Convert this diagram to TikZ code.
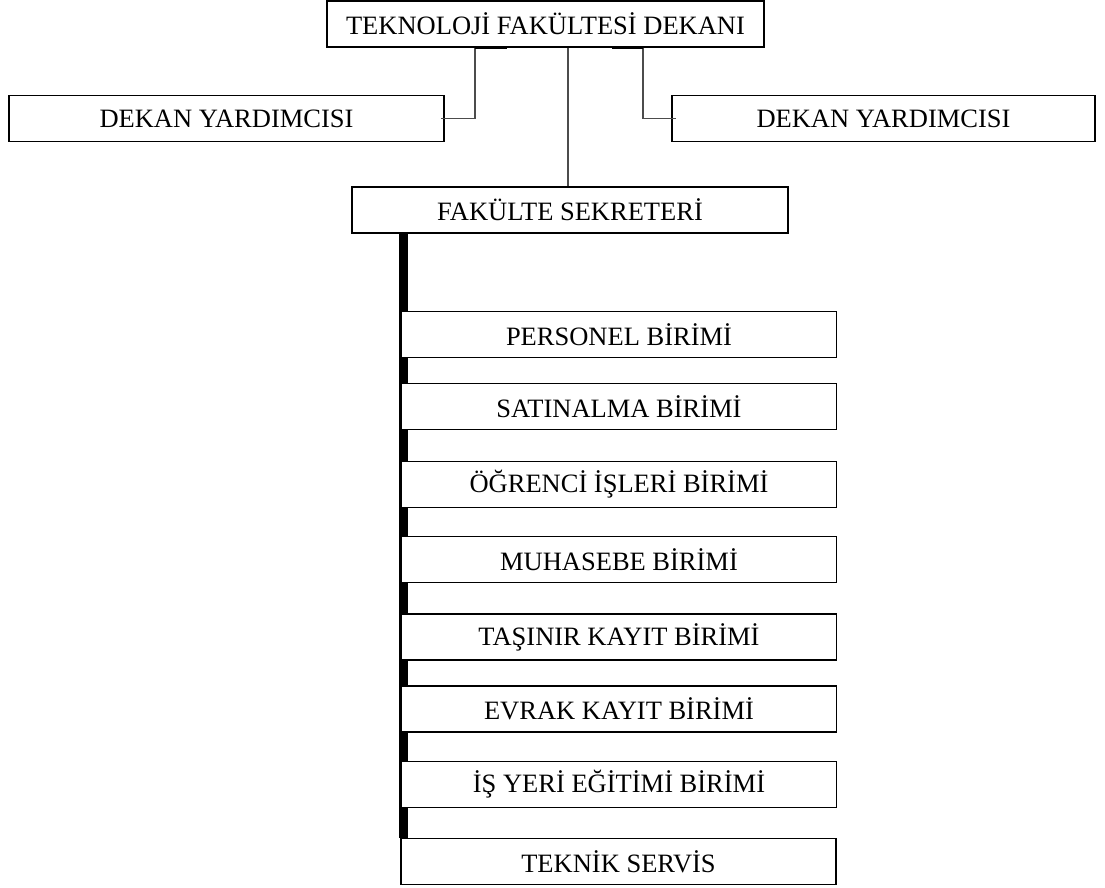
\documentclass[tikz,border=0pt]{standalone}
\usepackage{fontspec}
\setmainfont{Liberation Serif}
\usetikzlibrary{calc,backgrounds}
\tikzset{
  box/.style={draw=black, line width=1.2pt, fill=white, inner sep=0pt, minimum height=46pt,
    font=\fontsize{26.5}{30}\selectfont},
  link/.style={draw=black!70, line width=1.3pt},
  stub/.style={draw=black, line width=3pt},
  spine/.style={fill=black, draw=none}
}
\begin{document}
\begin{tikzpicture}[x=1pt,y=-1pt]
\useasboundingbox (0,0) rectangle (1105,888);
\coordinate (vl) at (475,47);
\coordinate (vr) at (643,47);
\coordinate (vc) at (568,47);
\node[box, minimum width=437pt] (dek) at (545.5,24) {TEKNOLOJİ FAKÜLTESİ DEKANI};
\node[box, minimum width=435pt] (dyl) at (226.5,118.5) {DEKAN YARDIMCISI};
\node[box, minimum width=423pt] (dyr) at (883.5,118.5) {DEKAN YARDIMCISI};
\node[box, minimum width=436pt] (fs) at (570,210) {FAKÜLTE SEKRETERİ};
\node[box, minimum width=435pt] (u1) at (619,334.5) {PERSONEL BİRİMİ};
\node[box, minimum width=435pt] (u2) at (619,406.5) {SATINALMA BİRİMİ};
\node[box, minimum width=435pt] (u3) at (619,484.5) {ÖĞRENCİ İŞLERİ BİRİMİ};
\node[box, minimum width=435pt] (u4) at (619,559.5) {MUHASEBE BİRİMİ};
\node[box, minimum width=435pt] (u5) at (619,637) {TAŞINIR KAYIT BİRİMİ};
\node[box, minimum width=435pt] (u6) at (619,709) {EVRAK KAYIT BİRİMİ};
\node[box, minimum width=435pt] (u7) at (619,784.5) {İŞ YERİ EĞİTİMİ BİRİMİ};
\node[box, minimum width=435pt] (u8) at (618.5,861.5) {TEKNİK SERVİS};
% connectors
\draw[link] (dek.south -| vl) |- ([xshift=-4pt]dyl.east);
\draw[link] (dek.south -| vr) |- ([xshift=5pt]dyr.west);
\draw[stub] (dek.south -| vl) -- ++(32,0);
\draw[stub] (dek.south -| vr) -- ++(-31,0);
\draw[link] (dek.south -| vc) -- (fs.north -| vc);
% spine behind the unit boxes
\begin{scope}[on background layer]
\path[spine] ($(fs.south west)+(48,0)$) rectangle ($(u8.north west)+(8,0)$);
\end{scope}
\end{tikzpicture}
\end{document}
